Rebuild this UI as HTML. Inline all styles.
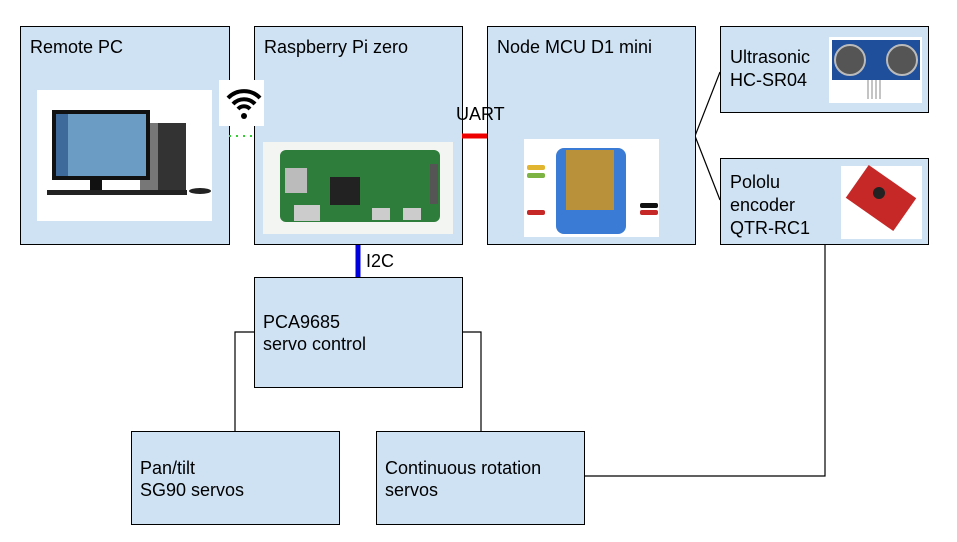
<!DOCTYPE html>
<html><head><meta charset="utf-8"><style>
body{margin:0;width:957px;height:542px;background:#fff;position:relative;overflow:hidden;font-family:"Liberation Sans",Arial,sans-serif;}
.b{position:absolute;background:#cfe2f3;border:1px solid #000;box-sizing:border-box;}
.t{position:absolute;font-size:18px;color:#000;line-height:23px;white-space:nowrap;}
</style></head><body>
<svg width="957" height="542" style="position:absolute;left:0;top:0">
<g stroke="#000" stroke-width="1.2" fill="none">
<polyline points="695,136 720,72"/>
<polyline points="695,136 720,200"/>
<polyline points="825,245 825,476 584,476"/>
<polyline points="254,332 235,332 235,431"/>
<polyline points="462,332 481,332 481,431"/>
</g>
</svg>
<div class="b" style="left:20px;top:26px;width:210px;height:219px"></div>
<div class="b" style="left:254px;top:26px;width:209px;height:219px"></div>
<div class="b" style="left:487px;top:26px;width:209px;height:219px"></div>
<div class="b" style="left:720px;top:26px;width:209px;height:87px"></div>
<div class="b" style="left:720px;top:158px;width:209px;height:87px"></div>
<div class="b" style="left:254px;top:277px;width:209px;height:111px"></div>
<div class="b" style="left:131px;top:431px;width:209px;height:94px"></div>
<div class="b" style="left:376px;top:431px;width:209px;height:94px"></div>

<svg width="957" height="542" style="position:absolute;left:0;top:0">
<line x1="229" y1="136" x2="254" y2="136" stroke="#3c3" stroke-width="2" stroke-dasharray="2,5"/>
<line x1="462" y1="136" x2="487" y2="136" stroke="#e00" stroke-width="5"/>
<line x1="358" y1="245" x2="358" y2="277" stroke="#00d" stroke-width="5"/>
<rect x="37" y="90" width="175" height="131" fill="#fff"/>
<rect x="150" y="123" width="36" height="70" fill="#333"/>
<rect x="140" y="123" width="18" height="70" fill="#777"/>
<rect x="52" y="110" width="98" height="70" fill="#111"/>
<rect x="56" y="114" width="90" height="62" fill="#6a9cc4"/>
<rect x="56" y="114" width="12" height="62" fill="#3d6a9b"/>
<rect x="90" y="180" width="12" height="10" fill="#111"/>
<rect x="47" y="190" width="140" height="5" fill="#222"/>
<ellipse cx="200" cy="191" rx="11" ry="3" fill="#222"/>
<rect x="219" y="80" width="45" height="46" fill="#fff"/>
<path d="M228,98 a22,22 0 0 1 32,0" stroke="#000" stroke-width="4" fill="none"/>
<path d="M233,104 a15,15 0 0 1 22,0" stroke="#000" stroke-width="4" fill="none"/>
<path d="M238,109 a8,8 0 0 1 12,0" stroke="#000" stroke-width="4" fill="none"/>
<circle cx="244" cy="116" r="3" fill="#000"/>
<rect x="263" y="142" width="190" height="92" fill="#f3f5f3"/>
<rect x="280" y="150" width="160" height="72" rx="6" fill="#2e7d3a"/>
<rect x="330" y="177" width="30" height="28" fill="#222"/>
<rect x="285" y="168" width="22" height="25" fill="#bbb"/>
<rect x="294" y="205" width="26" height="16" fill="#ccc"/>
<rect x="372" y="208" width="18" height="12" fill="#ccc"/>
<rect x="403" y="208" width="18" height="12" fill="#ccc"/>
<rect x="430" y="164" width="8" height="40" fill="#555"/>
<rect x="524" y="139" width="135" height="98" fill="#fff"/>
<rect x="556" y="148" width="70" height="86" rx="8" fill="#3a7bd5"/>
<rect x="566" y="150" width="48" height="60" fill="#b8913a"/>
<rect x="527" y="165" width="18" height="5" rx="2" fill="#e2b531"/>
<rect x="527" y="173" width="18" height="5" rx="2" fill="#7cb342"/>
<rect x="527" y="210" width="18" height="5" rx="2" fill="#c62828"/>
<rect x="640" y="203" width="18" height="5" rx="2" fill="#111"/>
<rect x="640" y="210" width="18" height="5" rx="2" fill="#c62828"/>
<rect x="829" y="37" width="93" height="66" fill="#fff"/>
<rect x="832" y="40" width="88" height="40" fill="#1f4f9a"/>
<circle cx="850" cy="60" r="15" fill="#555" stroke="#bbb" stroke-width="2"/>
<circle cx="902" cy="60" r="15" fill="#555" stroke="#bbb" stroke-width="2"/>
<g stroke="#888" stroke-width="1"><line x1="868" y1="80" x2="868" y2="99"/><line x1="872" y1="80" x2="872" y2="99"/><line x1="876" y1="80" x2="876" y2="99"/><line x1="880" y1="80" x2="880" y2="99"/></g>
<rect x="841" y="166" width="81" height="73" fill="#fff"/>
<rect x="852" y="178" width="58" height="40" fill="#c62828" transform="rotate(35 881 198)"/>
<circle cx="879" cy="193" r="6" fill="#222"/>
</svg>

<div class="t" style="left:30px;top:36px">Remote PC</div>
<div class="t" style="left:264px;top:36px">Raspberry Pi zero</div>
<div class="t" style="left:497px;top:36px">Node MCU D1 mini</div>
<div class="t" style="left:730px;top:46px">Ultrasonic<br>HC-SR04</div>
<div class="t" style="left:730px;top:171px">Pololu<br>encoder<br>QTR-RC1</div>
<div class="t" style="left:456px;top:103px">UART</div>
<div class="t" style="left:366px;top:250px">I2C</div>
<div class="t" style="left:263px;top:311px;line-height:22px">PCA9685<br>servo control</div>
<div class="t" style="left:140px;top:457px;line-height:22px">Pan/tilt<br>SG90 servos</div>
<div class="t" style="left:385px;top:457px;line-height:22px">Continuous rotation<br>servos</div>
</body></html>
